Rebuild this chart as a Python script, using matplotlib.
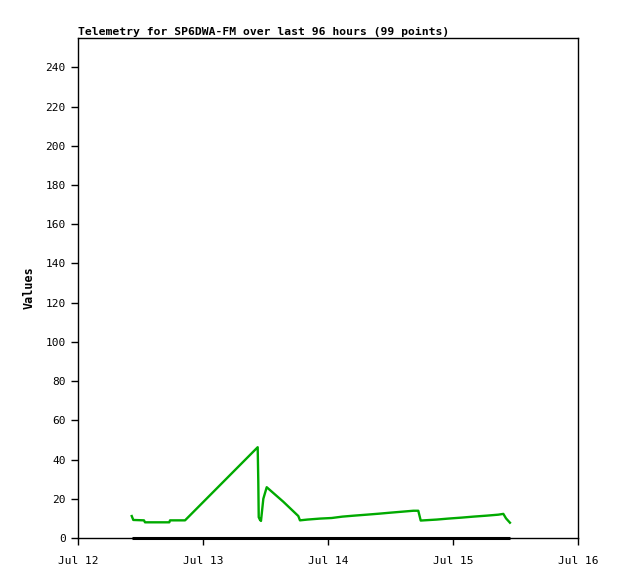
import matplotlib
matplotlib.use("Agg")
import matplotlib.pyplot as plt
import matplotlib.dates as mdates
import pandas as pd

times = [
    "2024-07-12 10:19", "2024-07-12 10:37", "2024-07-12 12:40", "2024-07-12 12:52",
    "2024-07-12 17:32", "2024-07-12 17:40", "2024-07-12 20:33",
    "2024-07-13 10:30", "2024-07-13 10:37", "2024-07-13 10:42", "2024-07-13 10:57",
    "2024-07-13 11:08", "2024-07-13 11:35", "2024-07-13 12:14", "2024-07-13 15:25",
    "2024-07-13 18:18", "2024-07-13 18:37", "2024-07-13 20:02", "2024-07-13 22:28",
    "2024-07-14 00:43", "2024-07-14 02:45", "2024-07-14 04:59", "2024-07-14 07:26",
    "2024-07-14 09:47", "2024-07-14 11:54", "2024-07-14 14:09", "2024-07-14 16:23",
    "2024-07-14 17:20", "2024-07-14 17:48", "2024-07-14 20:52", "2024-07-14 23:06",
    "2024-07-15 01:40", "2024-07-15 03:54", "2024-07-15 06:28", "2024-07-15 08:42",
    "2024-07-15 09:40", "2024-07-15 10:11", "2024-07-15 10:56",
]
values_green = [
    11.2, 9.2, 9.0, 8.0,
    8.0, 9.0, 9.0,
    46.3, 28.7, 10.6, 9.2,
    8.7, 20.0, 25.9, 18.5,
    11.2, 9.0, 9.4, 9.9,
    10.2, 10.9, 11.4, 11.9,
    12.4, 12.9, 13.4, 13.9,
    13.9, 8.9, 9.4, 9.9,
    10.4, 10.9, 11.4, 11.9,
    12.3, 10.0, 7.8,
]
values_black = [0.0] * len(times)

title = "Telemetry for SP6DWA-FM over last 96 hours (99 points)"
ylabel = "Values"
x_start, x_end = "2024-07-12", "2024-07-16"

t = pd.to_datetime(times)

fig = plt.figure(figsize=(6.18, 5.79), dpi=100)
ax = fig.add_axes([78/618, 41/579, 500/618, 500/579])

ax.plot(t, values_black, color="black", lw=2.2, solid_capstyle="butt", zorder=2, clip_on=False)
ax.plot(t, values_green, color="#00aa00", lw=1.7, zorder=3)

ax.set_xlim(pd.Timestamp(x_start), pd.Timestamp(x_end))
ax.set_ylim(0, 255)
ax.set_yticks(range(0, 241, 20))
ax.xaxis.set_major_locator(mdates.DayLocator())
ax.xaxis.set_major_formatter(mdates.DateFormatter("%b %d"))

mono = "DejaVu Sans Mono"
for lab in ax.get_xticklabels() + ax.get_yticklabels():
    lab.set_fontfamily(mono)
    lab.set_fontsize(8)
ax.tick_params(direction="out", length=5, width=1, colors="black", pad=4)
ax.tick_params(axis="x", pad=8)

for s in ax.spines.values():
    s.set_linewidth(1)
    s.set_color("black")

ax.set_ylabel(ylabel, fontfamily=mono, fontweight="bold", fontsize=8.5, labelpad=7)
ax.set_title(title, loc="left", fontfamily=mono, fontweight="bold", fontsize=8.2, pad=2)

fig.savefig("out.png", dpi=100)
